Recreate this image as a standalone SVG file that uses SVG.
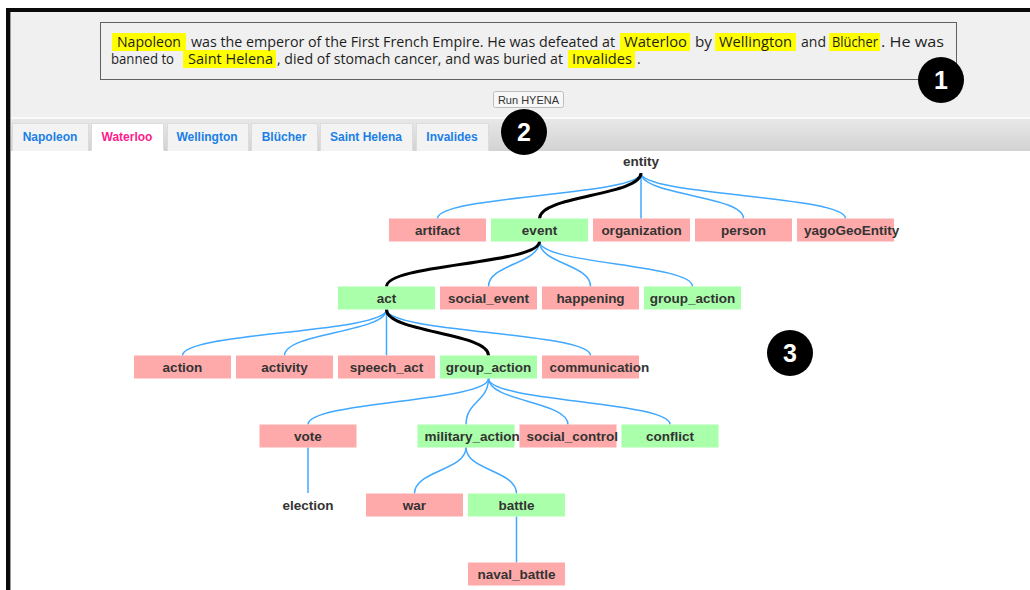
<svg xmlns="http://www.w3.org/2000/svg" width="1030" height="590" viewBox="0 0 1030 590">
<defs>
<linearGradient id="tabbar" x1="0" y1="0" x2="0" y2="1">
<stop offset="0" stop-color="#e8e8e8"/>
<stop offset="1" stop-color="#d2d2d2"/>
</linearGradient>
</defs>
<style>
.para{font-family:"Open Sans","DejaVu Sans",sans-serif;font-size:14px;fill:#1e1e1e}
.hl{fill:#ffff00}
.tab{fill:#f3f3f3;stroke:#dcdcdc;stroke-width:1}
.tabA{fill:#ffffff;stroke:#dcdcdc;stroke-width:1}
.tabt{font-family:"Liberation Sans",Arial,sans-serif;font-size:12px;font-weight:bold;fill:#1a7fe6;text-anchor:middle}
.tabta{fill:#ff1a8c}
.pink{fill:#ffaaaa}
.green{fill:#aaffaa}
.lbl{font-family:"Liberation Sans",Arial,sans-serif;font-size:13.5px;font-weight:bold;fill:#333333;text-anchor:middle}
.lbls{text-anchor:start}
.lk{fill:none;stroke:#40a8ff;stroke-width:1.5}
.lkb{fill:none;stroke:#000000;stroke-width:3}
.num{font-family:"Liberation Sans",Arial,sans-serif;font-size:25px;font-weight:bold;fill:#ffffff;text-anchor:middle}
</style>
<rect x="0" y="0" width="1030" height="590" fill="#ffffff"/>
<!-- top gray panel -->
<rect x="10" y="12" width="1020" height="106" fill="#f0f0f0"/>
<rect x="10" y="117" width="1020" height="2" fill="#fafafa"/>
<rect x="10" y="119" width="1020" height="32" fill="url(#tabbar)"/>
<!-- frame -->
<rect x="6" y="8" width="1024" height="4" fill="#0a0a0a"/>
<rect x="6" y="8" width="4" height="582" fill="#0a0a0a"/>
<rect x="10" y="12" width="1" height="578" fill="#9a9a9a"/>

<!-- text box -->
<g id="textbox">
<rect x="100.5" y="22.5" width="856" height="57" fill="#f0f0f0" stroke="#606060" stroke-width="1"/>
<rect class="hl" x="112" y="33" width="74" height="18"/>
<rect class="hl" x="620" y="33" width="70" height="18"/>
<rect class="hl" x="715" y="33" width="81" height="18"/>
<rect class="hl" x="829" y="33" width="51" height="18"/>
<rect class="hl" x="183" y="50" width="93" height="18"/>
<rect class="hl" x="568" y="50" width="67" height="18"/>
<text class="para" x="117" y="47" textLength="64" lengthAdjust="spacingAndGlyphs">Napoleon</text>
<text class="para" x="191" y="47" textLength="424" lengthAdjust="spacingAndGlyphs">was the emperor of the First French Empire. He was defeated at</text>
<text class="para" x="624" y="47" textLength="63" lengthAdjust="spacingAndGlyphs">Waterloo</text>
<text class="para" x="695" y="47" textLength="17" lengthAdjust="spacingAndGlyphs">by</text>
<text class="para" x="719" y="47" textLength="73" lengthAdjust="spacingAndGlyphs">Wellington</text>
<text class="para" x="801" y="47" textLength="25" lengthAdjust="spacingAndGlyphs">and</text>
<text class="para" x="832" y="47" textLength="46" lengthAdjust="spacingAndGlyphs">Blücher</text>
<text class="para" x="881" y="47" textLength="63" lengthAdjust="spacingAndGlyphs">. He was</text>
<text class="para" x="111" y="64" textLength="63" lengthAdjust="spacingAndGlyphs">banned to</text>
<text class="para" x="188" y="64" textLength="85" lengthAdjust="spacingAndGlyphs">Saint Helena</text>
<text class="para" x="277" y="64" textLength="286" lengthAdjust="spacingAndGlyphs">, died of stomach cancer, and was buried at</text>
<text class="para" x="572" y="64" textLength="60" lengthAdjust="spacingAndGlyphs">Invalides</text>
<text class="para" x="637" y="64">.</text>
</g>

<g id="button">
<rect x="493.5" y="91.5" width="70" height="16" rx="2" fill="#f7f7f7" stroke="#bdbdbd"/>
<text x="528.5" y="103.5" font-family="Liberation Sans, Arial, sans-serif" font-size="11" fill="#333" text-anchor="middle">Run HYENA</text>
</g>

<!-- tabs -->
<g id="tabs">
<rect class="tab" x="12.5" y="123.5" width="76" height="28"/>
<text class="tabt" x="50" y="141">Napoleon</text>
<rect class="tabA" x="91.5" y="123.5" width="72" height="29"/>
<text class="tabt tabta" x="127" y="141">Waterloo</text>
<rect class="tab" x="167.5" y="123.5" width="81" height="28"/>
<text class="tabt" x="207" y="141">Wellington</text>
<rect class="tab" x="251.5" y="123.5" width="66" height="28"/>
<text class="tabt" x="284" y="141">Blücher</text>
<rect class="tab" x="320.5" y="123.5" width="92" height="28"/>
<text class="tabt" x="366" y="141">Saint Helena</text>
<rect class="tab" x="416.5" y="123.5" width="72" height="28"/>
<text class="tabt" x="452" y="141">Invalides</text>
</g>
<rect x="10" y="151" width="1020" height="439" fill="#ffffff"/>
<rect x="91.5" y="150" width="72" height="3" fill="#ffffff"/>
<rect x="10" y="151" width="1" height="439" fill="#9a9a9a"/>

<!-- connectors -->
<g id="connectors">
<path class="lk" d="M641,173 C641,195.5 437.5,195.5 437.5,218.5"/>
<path class="lk" d="M641,173 L641,218.5"/>
<path class="lk" d="M641,173 C641,195.5 743.5,195.5 743.5,218.5"/>
<path class="lk" d="M641,173 C641,195.5 845.5,195.5 845.5,218.5"/>
<path class="lk" d="M539.5,241.5 C539.5,264 488.5,264 488.5,286.5"/>
<path class="lk" d="M539.5,241.5 C539.5,264 590.5,264 590.5,286.5"/>
<path class="lk" d="M539.5,241.5 C539.5,264 692.5,264 692.5,286.5"/>
<path class="lk" d="M386.5,309.5 C386.5,332.5 182.5,332.5 182.5,355.5"/>
<path class="lk" d="M386.5,309.5 C386.5,332.5 284.5,332.5 284.5,355.5"/>
<path class="lk" d="M386.5,309.5 L386.5,355.5"/>
<path class="lk" d="M386.5,309.5 C386.5,332.5 590.5,332.5 590.5,355.5"/>
<path class="lk" d="M488.5,378.5 C488.5,401.5 308,401.5 308,424.5"/>
<path class="lk" d="M488.5,378.5 C488.5,401.5 466,401.5 466,424.5"/>
<path class="lk" d="M488.5,378.5 C488.5,401.5 568,401.5 568,424.5"/>
<path class="lk" d="M488.5,378.5 C488.5,401.5 670,401.5 670,424.5"/>
<path class="lk" d="M308,447.5 L308,493"/>
<path class="lk" d="M466,447.5 C466,470.5 414.5,470.5 414.5,493.5"/>
<path class="lk" d="M466,447.5 C466,470.5 516.5,470.5 516.5,493.5"/>
<path class="lk" d="M516.5,516.5 L516.5,562.5"/>
<path class="lkb" d="M641,173 C641,195.5 539.5,195.5 539.5,218.5"/>
<path class="lkb" d="M539.5,241.5 C539.5,264 386.5,264 386.5,286.5"/>
<path class="lkb" d="M386.5,309.5 C386.5,332.5 488.5,332.5 488.5,355.5"/>
</g>

<!-- nodes -->
<g id="n-entity"><text class="lbl" x="641" y="166">entity</text></g>
<g id="n-artifact"><rect class="pink" x="389" y="218.5" width="97" height="23"/><text class="lbl" x="437.5" y="235">artifact</text></g>
<g id="n-event"><rect class="green" x="491" y="218.5" width="97" height="23"/><text class="lbl" x="539.5" y="235">event</text></g>
<g id="n-organization"><rect class="pink" x="593" y="218.5" width="97" height="23"/><text class="lbl" x="641.5" y="235">organization</text></g>
<g id="n-person"><rect class="pink" x="695" y="218.5" width="97" height="23"/><text class="lbl" x="743.5" y="235">person</text></g>
<g id="n-yagoGeoEntity"><rect class="pink" x="797" y="218.5" width="97" height="23"/><text class="lbl lbls" x="804" y="235">yagoGeoEntity</text></g>

<g id="n-act"><rect class="green" x="338" y="286.5" width="97" height="23"/><text class="lbl" x="386.5" y="303">act</text></g>
<g id="n-social_event"><rect class="pink" x="440" y="286.5" width="97" height="23"/><text class="lbl" x="488.5" y="303">social_event</text></g>
<g id="n-happening"><rect class="pink" x="542" y="286.5" width="97" height="23"/><text class="lbl" x="590.5" y="303">happening</text></g>
<g id="n-group_action1"><rect class="green" x="644" y="286.5" width="97" height="23"/><text class="lbl" x="692.5" y="303">group_action</text></g>

<g id="n-action"><rect class="pink" x="134" y="355.5" width="97" height="23"/><text class="lbl" x="182.5" y="372">action</text></g>
<g id="n-activity"><rect class="pink" x="236" y="355.5" width="97" height="23"/><text class="lbl" x="284.5" y="372">activity</text></g>
<g id="n-speech_act"><rect class="pink" x="338" y="355.5" width="97" height="23"/><text class="lbl" x="386.5" y="372">speech_act</text></g>
<g id="n-group_action2"><rect class="green" x="440" y="355.5" width="97" height="23"/><text class="lbl" x="488.5" y="372">group_action</text></g>
<g id="n-communication"><rect class="pink" x="542" y="355.5" width="97" height="23"/><text class="lbl lbls" x="549.5" y="372">communication</text></g>

<g id="n-vote"><rect class="pink" x="259.5" y="424.5" width="97" height="23"/><text class="lbl" x="308" y="441">vote</text></g>
<g id="n-military_action"><rect class="green" x="417.5" y="424.5" width="97" height="23"/><text class="lbl lbls" x="424.5" y="441">military_action</text></g>
<g id="n-social_control"><rect class="pink" x="519.5" y="424.5" width="97" height="23"/><text class="lbl lbls" x="526.5" y="441">social_control</text></g>
<g id="n-conflict"><rect class="green" x="621.5" y="424.5" width="97" height="23"/><text class="lbl" x="670" y="441">conflict</text></g>

<g id="n-election"><text class="lbl" x="308" y="510">election</text></g>
<g id="n-war"><rect class="pink" x="366" y="493.5" width="97" height="23"/><text class="lbl" x="414.5" y="510">war</text></g>
<g id="n-battle"><rect class="green" x="468" y="493.5" width="97" height="23"/><text class="lbl" x="516.5" y="510">battle</text></g>

<g id="n-naval_battle"><rect class="pink" x="468" y="562.5" width="97" height="23"/><text class="lbl" x="516.5" y="579">naval_battle</text></g>

<!-- callouts -->
<g id="callout-1"><circle cx="941" cy="80" r="23" fill="#000"/><text class="num" x="941" y="89">1</text></g>
<g id="callout-2"><circle cx="524" cy="132" r="23" fill="#000"/><text class="num" x="524" y="141">2</text></g>
<g id="callout-3"><circle cx="790" cy="353" r="23" fill="#000"/><text class="num" x="790" y="362">3</text></g>
</svg>
